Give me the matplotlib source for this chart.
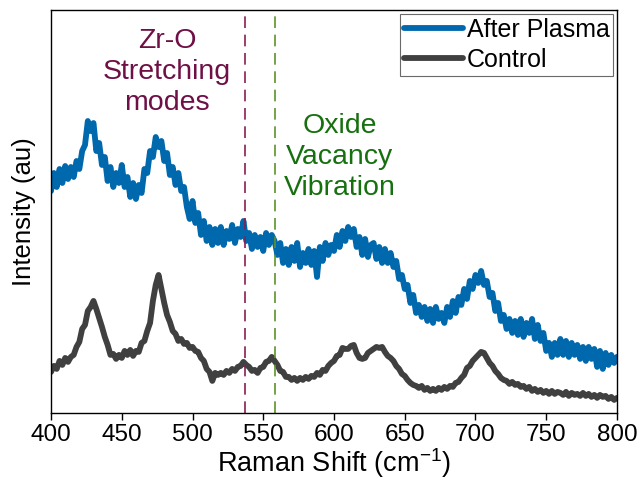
import numpy as np
import matplotlib
matplotlib.use("Agg")
import matplotlib.pyplot as plt

plt.rcParams['font.family'] = ['Liberation Sans', 'DejaVu Sans']
plt.rcParams['mathtext.fontset'] = 'custom'
plt.rcParams['mathtext.rm'] = 'Liberation Sans'
plt.rcParams['mathtext.it'] = 'Liberation Sans:italic'

# Raman shift grid (cm^-1)
shift = np.arange(400, 801, 2)

after_plasma = [
    222, 240, 226, 244, 230, 247, 234, 246, 236, 252,
    244, 262, 268, 292, 282, 290, 262, 270, 248, 256,
    232, 246, 226, 240, 230, 248, 226, 236, 216, 230,
    214, 228, 220, 244, 240, 262, 256, 276, 266, 272,
    252, 260, 238, 246, 228, 240, 222, 226, 206, 194,
    212, 190, 200, 178, 192, 172, 186, 168, 184, 170,
    186, 168, 182, 174, 188, 170, 184, 176, 192, 172,
    180, 164, 178, 166, 176, 162, 180, 168, 178, 172,
    158, 170, 150, 164, 148, 166, 152, 170, 146, 160,
    150, 164, 148, 162, 136, 166, 152, 170, 158, 168,
    162, 178, 166, 182, 172, 186, 176, 184, 166, 176,
    158, 174, 156, 168, 170, 154, 166, 150, 164, 150,
    160, 146, 152, 134, 138, 124, 128, 110, 118, 100,
    108, 96, 106, 92, 104, 90, 106, 94, 100, 90,
    106, 96, 112, 100, 116, 108, 124, 114, 132, 124,
    138, 130, 142, 128, 132, 116, 120, 102, 110, 92,
    98, 84, 94, 80, 92, 78, 94, 76, 90, 80,
    94, 74, 88, 72, 80, 62, 70, 56, 70, 58,
    74, 58, 72, 56, 70, 58, 68, 54, 66, 52,
    66, 54, 64, 46, 62, 44, 60, 48, 58, 50, 56,
]

control = [
    41, 47, 44, 52, 48, 55, 51, 56, 58, 66,
    71, 84, 88, 102, 106, 112, 104, 95, 86, 76,
    68, 58, 59, 54, 58, 55, 62, 58, 63, 57,
    62, 61, 70, 72, 82, 90, 112, 128, 138, 124,
    110, 98, 91, 82, 79, 72, 74, 69, 70, 65,
    66, 62, 61, 55, 52, 44, 41, 32, 40, 38,
    40, 38, 42, 40, 44, 42, 46, 47, 51, 48,
    46, 42, 43, 40, 45, 46, 51, 52, 56, 52,
    48, 42, 41, 36, 36, 33, 35, 32, 35, 33,
    36, 34, 37, 36, 40, 38, 43, 42, 47, 50,
    52, 57, 58, 65, 64, 64, 67, 68, 60, 55,
    54, 55, 60, 62, 64, 66, 65, 66, 61, 57,
    55, 52, 47, 44, 39, 37, 33, 30, 28, 27,
    25, 27, 23, 25, 22, 24, 22, 25, 23, 26,
    24, 27, 26, 30, 31, 35, 38, 45, 47, 52,
    55, 58, 61, 60, 55, 50, 47, 42, 39, 35,
    33, 32, 29, 31, 28, 29, 26, 27, 24, 26,
    22, 24, 21, 23, 20, 22, 19, 22, 19, 21,
    20, 18, 21, 17, 20, 18, 19, 17, 20, 17,
    19, 16, 18, 15, 18, 16, 17, 14, 16, 13, 15,
]

series_labels = ["After Plasma", "Control"]
vline_positions = [537, 558]
xticks = [400, 450, 500, 550, 600, 650, 700, 750, 800]

fig = plt.figure(figsize=(6.38, 4.79), dpi=100)
ax = fig.add_axes([0.080, 0.138, 0.887, 0.841])

ax.plot(shift, after_plasma, color='#0068AD', lw=4.2, label=series_labels[0],
        solid_joinstyle='round', solid_capstyle='round')
ax.plot(shift, control, color='#404040', lw=4.2, label=series_labels[1],
        solid_joinstyle='round', solid_capstyle='round')

ax.axvline(vline_positions[0], color='#8A1F52', lw=1.2, ls=(0, (7, 4)))
ax.axvline(vline_positions[1], color='#5E9228', lw=1.2, ls=(0, (7, 4)))

ax.set_xlim(400, 800)
ax.set_ylim(0, 403)
ax.set_xticks(xticks)
ax.set_yticks([])
ax.tick_params(axis='x', direction='out', length=5, width=1, labelsize=17.5, pad=3)
for s in ax.spines.values():
    s.set_linewidth(1.0)

ax.set_xlabel(r'Raman Shift (cm$^{\mathregular{-1}}$)', fontsize=19.5, labelpad=0)
ax.set_ylabel('Intensity (au)', fontsize=18.5, labelpad=11)

ax.text(482, 341, 'Zr-O\nStretching\nmodes', color='#6E0F45', fontsize=20.5,
        ha='center', va='center', linespacing=1.25)
ax.text(604, 256, 'Oxide\nVacancy\nVibration', color='#17700F', fontsize=20.5,
        ha='center', va='center', linespacing=1.25)

leg = ax.legend(loc='upper right', fontsize=18, frameon=True, fancybox=False,
                edgecolor='#444444', handlelength=2.35, handletextpad=0.15,
                borderpad=0.15, labelspacing=0.25, borderaxespad=0.15)
leg.get_frame().set_linewidth(0.8)

fig.savefig('out.png', dpi=100)
